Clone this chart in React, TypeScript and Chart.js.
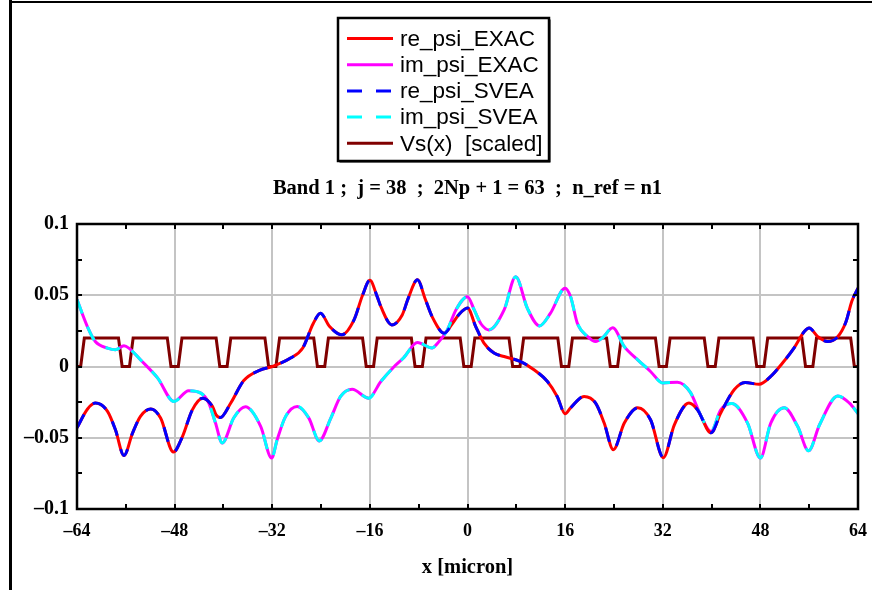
import React, { useEffect, useRef } from "react";
import { Chart, registerables } from "chart.js";

Chart.register(...registerables);

// ---- data ----
const reX = [-64, -62.3, -61, -59, -57.7, -56.3, -54.9, -53.6, -51.9, -50.3, -48.2, -46.7, -45.1, -43.4, -41.8, -41.2, -40.5, -38.8, -36.7, -34, -32, -29, -27, -25.3, -24.1, -22.6, -20.6, -18.6, -17.2, -16, -14.8, -14.2, -12.4, -10.7, -9.7, -8.2, -6.9, -5.8, -3.8, -2.5, -1.5, 0, 1.35, 2.7, 4.35, 6, 8.7, 10.9, 13.1, 14.7, 16, 16.9, 19.1, 21, 22.4, 23.9, 25.7, 27.9, 30, 32.1, 33.9, 36.3, 37.7, 39.9, 41.5, 43.7, 45.5, 47.8, 49.7, 51.6, 53.5, 55.2, 56, 57.4, 59, 60.7, 62, 63, 64];
const reY = [-0.043, -0.030, -0.0257, -0.0315, -0.0444, -0.0625, -0.0467, -0.035, -0.0299, -0.0362, -0.060, -0.049, -0.0304, -0.0222, -0.028, -0.034, -0.0358, -0.0256, -0.010, -0.0025, 0, 0.0059, 0.013, 0.030, 0.0374, 0.028, 0.0222, 0.0327, 0.050, 0.0605, 0.049, 0.042, 0.0292, 0.0362, 0.048, 0.0608, 0.047, 0.035, 0.0234, 0.030, 0.036, 0.041, 0.028, 0.0164, 0.0094, 0.007, 0.0035, -0.0023, -0.0105, -0.021, -0.0332, -0.029, -0.021, -0.0257, -0.0397, -0.0584, -0.0397, -0.029, -0.0374, -0.064, -0.0409, -0.0257, -0.0304, -0.0465, -0.0327, -0.0163, -0.0112, -0.0125, -0.007, 0.0023, 0.0129, 0.0245, 0.027, 0.021, 0.0175, 0.021, 0.031, 0.046, 0.055];

const imX = [-64, -62.3, -61, -59, -57.7, -56.3, -55.5, -53.6, -50.8, -48.1, -45.7, -43.7, -42.4, -41.3, -40.2, -38.3, -36.4, -33.9, -32.1, -31.2, -29.8, -27.9, -26, -24.3, -22.4, -20.8, -18.9, -16.2, -14.2, -12, -10.5, -8.2, -5.8, -4.9, -3.3, -1.9, 0, 1.1, 2.2, 3.5, 6, 7.9, 9.8, 11.8, 13.6, 16, 16.9, 18, 19.7, 21, 22.1, 23.8, 25.7, 27.9, 30, 32, 34.4, 36.5, 38.3, 39.9, 41.5, 43.3, 45.9, 48, 49.7, 51.9, 54.1, 55.9, 57.7, 60.7, 62.6, 64];
const imY = [0.047, 0.028, 0.0175, 0.0129, 0.0117, 0.0145, 0.0129, 0.0047, -0.008, -0.0245, -0.017, -0.0187, -0.0257, -0.0397, -0.0537, -0.036, -0.0283, -0.042, -0.0642, -0.0514, -0.035, -0.028, -0.0362, -0.0522, -0.0362, -0.021, -0.016, -0.0222, -0.0105, 0, 0.006, 0.0168, 0.013, 0.0164, 0.0257, 0.0397, 0.049, 0.0397, 0.030, 0.0257, 0.0397, 0.063, 0.041, 0.0285, 0.0374, 0.055, 0.049, 0.0304, 0.021, 0.0175, 0.020, 0.0272, 0.014, 0.0047, -0.0035, -0.0115, -0.011, -0.018, -0.035, -0.0456, -0.0304, -0.026, -0.0397, -0.0642, -0.0397, -0.029, -0.042, -0.0592, -0.0409, -0.0207, -0.0257, -0.033];

// Vs(x) [scaled]: dip centres, levels and dip edges (micron)
const vsDips = [-64, -56, -48, -40, -32, -24, -16, -8, 0, 8, 16, 24, 32, 40, 48, 56, 64];
const vsHigh = 0.02;
const vsLow = 0;
const vsOuter = 1.2;
const vsInner = 0.6;

const seriesLabels = ["re_psi_EXAC", "im_psi_EXAC", "re_psi_SVEA", "im_psi_SVEA", "Vs(x)  [scaled]"];
const titleText = "Band 1 ;  j = 38  ;  2Np + 1 = 63  ;  n_ref = n1";
const xTitleText = "x [micron]";

const xMin = -64, xMax = 64, xStep = 8, xLabelStep = 16;
const yMin = -0.1, yMax = 0.1, yStep = 0.025, yLabelStep = 0.05;

const pts = (xs: number[], ys: number[]) => xs.map((x, i) => ({ x, y: ys[i] }));

function vsPoints() {
  const out: { x: number; y: number }[] = [];
  for (const c of vsDips) {
    out.push({ x: c - vsOuter, y: vsHigh });
    out.push({ x: c - vsInner, y: vsLow });
    out.push({ x: c + vsInner, y: vsLow });
    out.push({ x: c + vsOuter, y: vsHigh });
  }
  return out;
}

const isMult = (v: number, s: number) => Math.abs(v / s - Math.round(v / s)) < 1e-6;
const fmt = (v: number) => {
  const r = Math.round(v * 1000) / 1000;
  return String(r).replace("-", "\u2013");
};

const SERIF = "'Liberation Serif', 'Times New Roman', serif";
const SANS = "'Liberation Sans', Arial, sans-serif";

const decorPlugin = {
  id: "decor",
  afterDatasetsDraw(chart: any) {
    const { ctx, chartArea } = chart;
    const xs = chart.scales.x;
    const ys = chart.scales.y;
    ctx.save();
    // tick marks (inside) on all four sides
    ctx.strokeStyle = "#000";
    ctx.lineWidth = 2;
    const tl = 5;
    for (let v = xMin; v <= xMax + 1e-9; v += xStep) {
      const p = Math.round(xs.getPixelForValue(v));
      ctx.beginPath();
      ctx.moveTo(p, chartArea.top);
      ctx.lineTo(p, chartArea.top + tl);
      ctx.moveTo(p, chartArea.bottom);
      ctx.lineTo(p, chartArea.bottom - tl);
      ctx.stroke();
    }
    for (let k = 0; k <= Math.round((yMax - yMin) / yStep); k++) {
      const v = yMin + k * yStep;
      const p = Math.round(ys.getPixelForValue(v));
      ctx.beginPath();
      ctx.moveTo(chartArea.left, p);
      ctx.lineTo(chartArea.left + tl, p);
      ctx.moveTo(chartArea.right, p);
      ctx.lineTo(chartArea.right - tl, p);
      ctx.stroke();
    }
    // plot frame
    ctx.lineWidth = 2.5;
    ctx.strokeRect(chartArea.left, chartArea.top, chartArea.right - chartArea.left, chartArea.bottom - chartArea.top);
    ctx.restore();
  },
  afterDraw(chart: any) {
    const { ctx, chartArea } = chart;
    ctx.save();
    // outer frame lines
    ctx.fillStyle = "#000";
    ctx.fillRect(9, 0, 3, 590);
    ctx.fillRect(9, 1, 872, 2);

    // title
    const cx = (chartArea.left + chartArea.right) / 2;
    ctx.fillStyle = "#000";
    ctx.font = "bold 20.5px " + SERIF;
    ctx.textAlign = "center";
    ctx.textBaseline = "middle";
    ctx.fillText(titleText, cx, 189);

    // x axis title
    ctx.font = "bold 20.5px " + SERIF;
    ctx.fillText(xTitleText, cx, 568);

    // legend box
    const L = 338, T = 18, W = 211, H = 143;
    ctx.fillStyle = "#000";
    ctx.fillRect(L + 1.5, T + 1.5, W, H);
    ctx.fillStyle = "#fff";
    ctx.fillRect(L, T, W, H);
    ctx.strokeStyle = "#000";
    ctx.lineWidth = 2.5;
    ctx.strokeRect(L, T, W, H);

    ctx.font = "22.5px " + SANS;
    ctx.textAlign = "left";
    ctx.textBaseline = "middle";
    const ds = chart.data.datasets;
    for (let i = 0; i < ds.length; i++) {
      const y = 38.5 + i * 26.2;
      ctx.save();
      ctx.strokeStyle = ds[i].borderColor;
      ctx.lineWidth = 3;
      ctx.setLineDash(ds[i].borderDash || []);
      ctx.beginPath();
      ctx.moveTo(347, y);
      ctx.lineTo(393, y);
      ctx.stroke();
      ctx.restore();
      ctx.fillStyle = "#000";
      ctx.fillText(ds[i].label, 400, y + 1);
    }
    ctx.restore();
  },
};

export default function App() {
  const ref = useRef<HTMLCanvasElement | null>(null);

  useEffect(() => {
    if (!ref.current) return;
    const dash = [15, 14];
    const common = { pointRadius: 0, borderWidth: 3, fill: false, cubicInterpolationMode: "monotone" as const };
    const chart = new Chart(ref.current, {
      type: "line",
      data: {
        datasets: [
          { ...common, label: seriesLabels[0], data: pts(reX, reY), borderColor: "#ff0000", order: 2 },
          { ...common, label: seriesLabels[1], data: pts(imX, imY), borderColor: "#ff00ff", order: 2 },
          { ...common, label: seriesLabels[2], data: pts(reX, reY), borderColor: "#0000ff", borderDash: dash, order: 1 },
          { ...common, label: seriesLabels[3], data: pts(imX, imY), borderColor: "#00ffff", borderDash: dash, order: 1 },
          { label: seriesLabels[4], data: vsPoints(), borderColor: "#800000", borderWidth: 3, pointRadius: 0, tension: 0, fill: false, order: 3 },
        ],
      },
      options: {
        animation: false,
        responsive: false,
        maintainAspectRatio: false,
        layout: { padding: { left: 0, top: 224, right: 14, bottom: 0 } },
        plugins: { legend: { display: false }, title: { display: false }, tooltip: { enabled: false } },
        scales: {
          x: {
            type: "linear",
            min: xMin,
            max: xMax,
            afterFit: (s: any) => { s.height = 81; s.paddingLeft = 0; s.paddingRight = 0; },
            border: { display: false },
            grid: {
              drawTicks: false,
              lineWidth: 2,
              color: (c: any) => (c.tick && isMult(c.tick.value, xLabelStep) ? "#c4c4c4" : "rgba(0,0,0,0)"),
            },
            ticks: {
              stepSize: xStep,
              autoSkip: false,
              maxRotation: 0,
              padding: 12,
              color: "#000",
              font: { family: SERIF, size: 18, weight: "bold" },
              callback: (v: any) => (isMult(Number(v), xLabelStep) ? fmt(Number(v)) : ""),
            },
          },
          y: {
            type: "linear",
            min: yMin,
            max: yMax,
            afterFit: (s: any) => { s.width = 77; s.paddingTop = 0; s.paddingBottom = 0; },
            border: { display: false },
            grid: {
              drawTicks: false,
              lineWidth: 2,
              color: (c: any) => (c.tick && isMult(c.tick.value, yLabelStep) ? "#c4c4c4" : "rgba(0,0,0,0)"),
            },
            ticks: {
              stepSize: yStep,
              autoSkip: false,
              padding: 8,
              color: "#000",
              font: { family: SERIF, size: 20, weight: "bold" },
              callback: (v: any) => (isMult(Number(v), yLabelStep) ? fmt(Number(v)) : ""),
            },
          },
        },
      },
      plugins: [decorPlugin],
    });
    return () => chart.destroy();
  }, []);

  return (
    <div style={{ position: "fixed", left: 0, top: 0, width: 872, height: 590, background: "#fff" }}>
      <canvas ref={ref} width={872} height={590} style={{ display: "block", width: 872, height: 590 }} />
    </div>
  );
}
